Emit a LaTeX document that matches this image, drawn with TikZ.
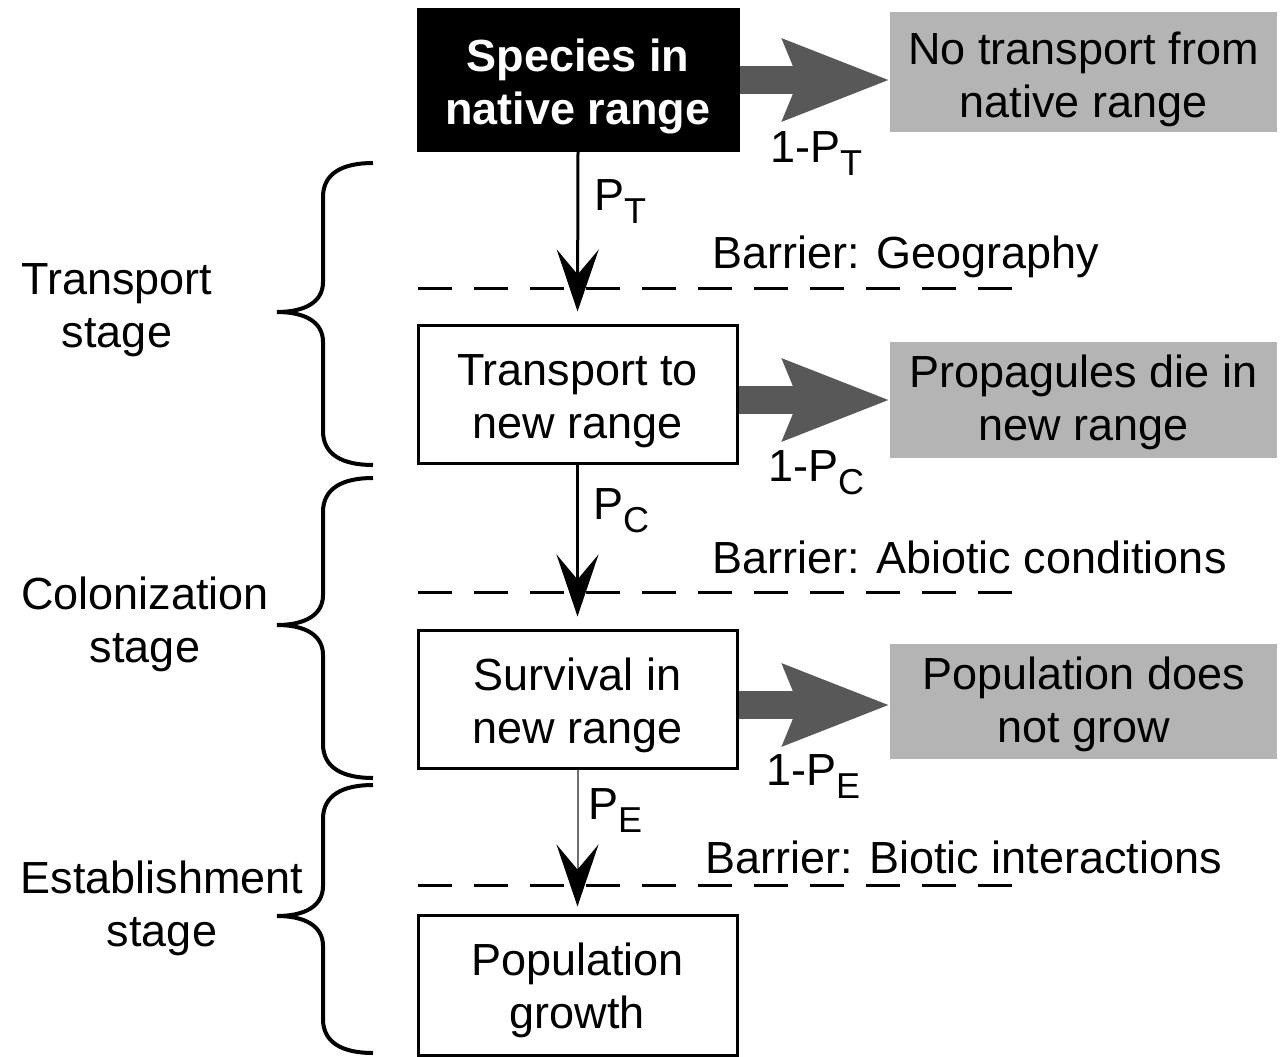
\documentclass[tikz,border=0pt]{standalone}
\usepackage{fontspec}
\setmainfont{Liberation Sans}
\usetikzlibrary{arrows.meta,calc}
\definecolor{boxgray}{RGB}{180,180,180}
\definecolor{arrowgray}{RGB}{88,88,88}
\definecolor{linegray}{RGB}{110,110,110}
\newcommand\sbs[1]{\raisebox{-13pt}{\fontsize{36}{36}\selectfont #1}}
\newcommand\tstrut[1]{\rule{0pt}{#1}}
\newcommand\drawbrace[3]{%
  \draw[bracestyle] (373,#1) .. controls (343,#1) and (323,#1+10) .. (323,#1+34)
    -- (323,#2-30) .. controls (323,#2-10) and (305,#2) .. (277,#2)
    .. controls (305,#2) and (323,#2+10) .. (323,#2+30)
    -- (323,#3-34) .. controls (323,#3-10) and (343,#3) .. (373,#3);}
\begin{document}
\begin{tikzpicture}[x=1pt,y=-1pt,
  txt/.style={font=\fontsize{45}{53}\selectfont, inner sep=0pt},
  stagebox/.style={draw, line width=3pt, minimum width=319pt, minimum height=138pt, align=center, txt},
  outbox/.style={fill=boxgray, minimum width=387pt, align=center, txt},
  fatarrow/.style={draw=arrowgray, line width=28pt, -{Stealth[length=105pt,width=78pt,inset=14pt]}},
  downarrow/.style={line width=3pt, -{Stealth[length=62pt,width=42pt,inset=25pt,color=black]}},
  barrier/.style={dash pattern=on 34pt off 22pt, line width=3pt},
  bracestyle/.style={line width=4pt}]
\useasboundingbox (0,0) rectangle (1282,1057);

% main boxes
\node[stagebox, fill=black, text=white, minimum width=320pt, minimum height=140pt,
      font={\fontsize{45}{53}\selectfont\bfseries}] (sp) at (578,80) {\tstrut{46pt}Species in\\native range};
\node[stagebox] (tr) at (577.5,394) {\tstrut{45pt}Transport to\\new range};
\node[stagebox] (sv) at (577.5,699) {\tstrut{45pt}Survival in\\new range};
\node[stagebox, minimum height=140pt] (pg) at (577.5,985) {\tstrut{44pt}Population\\growth};

% outcome boxes
\node[outbox, minimum height=120pt] (g1) at (1083.5,72) {\tstrut{47pt}No transport from\\native range};
\node[outbox, minimum height=116pt] (g2) at (1083.5,400) {\tstrut{37pt}Propagules die in\\new range};
\node[outbox, minimum height=115pt] (g3) at (1083.5,701) {\tstrut{39pt}Population does\\not grow};

% fat gray arrows
\draw[fatarrow] (sp.east) -- (sp.east -| g1.west);
\draw[fatarrow] (tr.east |- g2.west) -- (g2.west);
\draw[fatarrow] (sv.east |- 0,705) -- (g3.west |- 0,705);

% probability labels
\node[txt, anchor=base west] (l1) at (770,162) {1-P\sbs{T}};
\node[txt, anchor=base west] (l2) at (768,481) {1-P\sbs{C}};
\node[txt, anchor=base west] (l3) at (766,785) {1-P\sbs{E}};
\node[txt, anchor=base west] (p1) at (594,210) {P\sbs{T}};
\node[txt, anchor=base west] (p2) at (593,519) {P\sbs{C}};
\node[txt, anchor=base west] (p3) at (588,819) {P\sbs{E}};

% barriers
\node[txt, anchor=base west] (b1) at (712,268) {Barrier: Geography};
\node[txt, anchor=base west] (b2) at (712,573) {Barrier: Abiotic conditions};
\node[txt, anchor=base west] (b3) at (705,873) {Barrier: Biotic interactions};
\draw[barrier] (418,288) -- (1024,288);
\draw[barrier] (418,592) -- (1024,592);
\draw[barrier] (418,885) -- (1024,885);

% down arrows
\draw[downarrow, shorten >=12pt] (sp.south) -- (tr.north);
\draw[downarrow, shorten >=12pt] (tr.south) -- (sv.north);
\draw[downarrow, line width=2pt, draw=linegray, shorten >=7pt] (sv.south) -- (pg.north);

% stage labels
\node[txt, align=center, anchor=north] (s1) at (117,263) {Transport\\stage};
\node[txt, align=center, anchor=north] (s2) at (145,577) {Colonization\\stage};
\node[txt, align=center, anchor=north] (s3) at (162,861) {Establishment\\stage};

% braces
\drawbrace{163}{312}{465}
\drawbrace{478}{625}{778}
\drawbrace{785}{916}{1053}
\end{tikzpicture}
\end{document}
